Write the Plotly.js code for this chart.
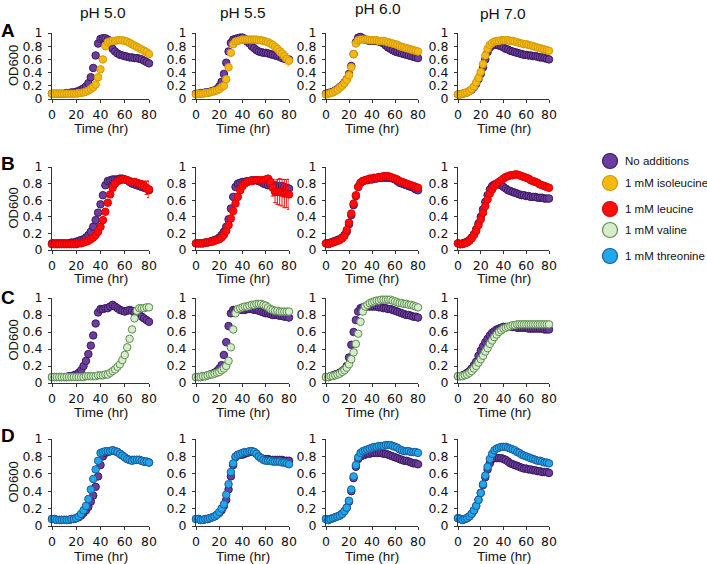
<!DOCTYPE html>
<html>
<head>
<meta charset="utf-8">
<script src="https://cdn.plot.ly/plotly-3.0.1.min.js"></script>
<style>
  html, body { margin: 0; padding: 0; background: #ffffff; }
  #chart { width: 707px; height: 564px; }
</style>
</head>
<body>
<div id="chart"></div>
<script>
// Sampling times (hours)
const time = [0,2,4,6,8,10,12,14,16,18,20,22,24,26,28,30,32,34,36,38,40,42,44,46,48,50,52,54,56,58,60,62,64,66,68,70,72,74,76,78,80];

const rowLabels = ['A', 'B', 'C', 'D'];
const phLabels = ['pH 5.0', 'pH 5.5', 'pH 6.0', 'pH 7.0'];
const legendLabels = ['No additions', '1 mM isoleucine', '1 mM leucine', '1 mM valine', '1 mM threonine'];
const xTitle = 'Time (hr)';
const yTitle = 'OD600';

// Row A: no additions vs 1 mM isoleucine (OD600)
const noAdd_A50 = [.08,.08,.08,.08,.08,.08,.09,.09,.1,.1,.11,.12,.14,.16,.19,.24,.33,.47,.66,.84,.91,.92,.92,.9,.84,.76,.72,.69,.67,.66,.65,.64,.63,.63,.62,.62,.61,.6,.58,.56,.54];
const ile_A50   = [.08,.08,.08,.08,.08,.08,.08,.08,.08,.08,.08,.09,.09,.1,.11,.13,.15,.18,.22,.33,.45,.6,.8,.86,.87,.88,.88,.89,.89,.89,.88,.87,.85,.83,.81,.79,.77,.75,.73,.71,.68];
const noAdd_A55 = [.08,.08,.09,.09,.1,.1,.11,.12,.13,.15,.19,.26,.38,.55,.72,.85,.9,.91,.92,.93,.93,.91,.87,.84,.8,.77,.74,.72,.71,.7,.7,.69,.68,.67,.66,.65,.64,.62,.61,.6,.6];
const ile_A55   = [.07,.08,.08,.08,.09,.09,.1,.11,.12,.13,.15,.18,.2,.3,.48,.7,.83,.87,.88,.89,.9,.9,.9,.9,.9,.9,.9,.89,.89,.88,.87,.86,.84,.82,.79,.76,.72,.69,.65,.61,.58];
const noAdd_A60 = [.08,.09,.1,.11,.13,.15,.18,.21,.25,.3,.38,.5,.68,.86,.93,.94,.92,.9,.89,.88,.88,.88,.88,.87,.86,.84,.81,.78,.76,.74,.72,.71,.7,.69,.68,.67,.66,.65,.64,.63,.62];
const ile_A60   = [.07,.08,.09,.1,.12,.14,.17,.2,.24,.29,.36,.48,.68,.84,.89,.9,.9,.9,.9,.89,.89,.89,.89,.88,.88,.88,.87,.86,.85,.84,.83,.82,.8,.79,.78,.77,.76,.75,.74,.73,.72];
const noAdd_A70 = [.07,.07,.08,.09,.1,.12,.14,.18,.23,.3,.38,.48,.6,.71,.78,.81,.82,.82,.81,.8,.78,.76,.75,.73,.72,.71,.7,.69,.68,.67,.67,.66,.66,.65,.65,.64,.63,.63,.62,.61,.6];
const ile_A70   = [.07,.07,.08,.09,.1,.12,.15,.19,.25,.32,.41,.53,.66,.76,.82,.85,.87,.88,.88,.89,.89,.89,.89,.88,.88,.87,.86,.85,.84,.83,.83,.82,.81,.8,.79,.78,.77,.76,.75,.74,.73];

// Row B: no additions vs 1 mM leucine
const noAdd_B50 = [.08,.08,.08,.08,.08,.08,.08,.08,.09,.09,.1,.11,.12,.13,.15,.18,.22,.28,.36,.45,.55,.66,.78,.83,.84,.85,.85,.85,.86,.86,.85,.84,.82,.8,.79,.78,.77,.76,.75,.74,.72];
const leu_B50   = [.07,.07,.07,.07,.07,.07,.07,.07,.07,.07,.07,.08,.08,.09,.1,.11,.13,.15,.18,.22,.28,.36,.46,.57,.67,.75,.8,.83,.84,.85,.85,.84,.83,.82,.82,.81,.8,.79,.77,.75,.73];
const noAdd_B55 = [.08,.08,.08,.08,.09,.09,.1,.11,.12,.13,.15,.18,.22,.28,.37,.5,.64,.76,.8,.81,.82,.82,.83,.83,.84,.84,.84,.83,.82,.8,.79,.78,.78,.78,.78,.77,.77,.77,.76,.75,.74];
const leu_B55   = [.08,.08,.08,.08,.09,.09,.1,.1,.11,.12,.13,.15,.18,.23,.3,.38,.47,.56,.64,.72,.77,.8,.82,.83,.83,.84,.84,.84,.84,.84,.85,.86,.82,.75,.7,.7,.7,.69,.68,.68,.67];
const noAdd_B60 = [.08,.08,.09,.1,.11,.12,.13,.15,.18,.22,.31,.42,.54,.65,.76,.81,.83,.84,.84,.85,.85,.86,.86,.87,.87,.87,.87,.87,.87,.86,.85,.83,.81,.8,.79,.78,.77,.76,.75,.73,.72];
const leu_B60   = [.08,.07,.08,.09,.1,.11,.12,.14,.17,.24,.33,.44,.56,.66,.76,.81,.83,.84,.85,.86,.86,.87,.87,.88,.88,.89,.89,.89,.88,.87,.86,.85,.83,.82,.81,.8,.79,.78,.77,.76,.75];
const noAdd_B70 = [.08,.07,.08,.09,.1,.12,.15,.19,.25,.32,.4,.49,.58,.66,.73,.77,.79,.8,.79,.78,.76,.74,.72,.71,.7,.69,.68,.67,.66,.66,.65,.65,.64,.64,.64,.63,.63,.63,.62,.62,.62];
const leu_B70   = [.08,.07,.07,.08,.09,.11,.14,.18,.23,.3,.37,.45,.53,.61,.68,.73,.77,.8,.82,.84,.86,.88,.89,.9,.9,.91,.91,.9,.89,.88,.87,.86,.84,.83,.82,.81,.79,.78,.77,.76,.75];

// Row C: no additions vs 1 mM valine
const noAdd_C50 = [.07,.07,.07,.07,.07,.07,.07,.08,.08,.09,.1,.12,.15,.2,.26,.34,.44,.56,.7,.83,.87,.87,.88,.88,.9,.92,.9,.88,.86,.85,.84,.85,.86,.85,.83,.81,.8,.78,.76,.74,.72];
const val_C50   = [.07,.07,.07,.07,.07,.07,.07,.07,.07,.07,.07,.07,.07,.07,.08,.08,.08,.08,.08,.09,.09,.09,.1,.1,.12,.14,.16,.19,.22,.27,.33,.42,.52,.63,.76,.85,.88,.88,.88,.89,.89];
const noAdd_C55 = [.07,.07,.07,.08,.08,.09,.1,.11,.12,.14,.17,.21,.33,.48,.67,.82,.86,.86,.86,.86,.86,.86,.87,.87,.87,.86,.86,.85,.84,.83,.82,.82,.81,.8,.8,.8,.79,.79,.78,.78,.77];
const val_C55   = [.07,.07,.07,.08,.08,.09,.1,.1,.11,.12,.13,.15,.17,.2,.26,.42,.63,.82,.87,.88,.89,.9,.9,.91,.92,.92,.93,.93,.93,.92,.91,.89,.87,.86,.85,.85,.84,.84,.84,.84,.84];
const noAdd_C60 = [.07,.07,.08,.09,.1,.11,.12,.14,.16,.2,.3,.45,.6,.74,.84,.88,.89,.9,.9,.9,.9,.9,.9,.89,.89,.88,.88,.87,.87,.86,.85,.84,.83,.82,.81,.8,.8,.79,.78,.78,.77];
const val_C60   = [.07,.07,.08,.08,.09,.1,.11,.13,.15,.18,.22,.28,.36,.46,.58,.72,.84,.9,.92,.94,.95,.96,.97,.97,.98,.98,.98,.98,.98,.97,.96,.95,.94,.94,.93,.93,.92,.92,.91,.9,.89];
const noAdd_C70 = [.08,.08,.09,.1,.12,.14,.17,.21,.25,.32,.38,.43,.48,.52,.56,.59,.61,.63,.64,.65,.66,.66,.66,.66,.66,.66,.65,.65,.65,.65,.65,.64,.64,.64,.64,.64,.64,.64,.63,.63,.63];
const val_C70   = [.08,.08,.08,.09,.1,.12,.14,.17,.2,.24,.28,.32,.37,.41,.46,.5,.54,.57,.6,.62,.64,.65,.66,.67,.68,.68,.69,.69,.69,.69,.69,.69,.69,.69,.69,.69,.69,.69,.69,.69,.69];

// Row D: no additions vs 1 mM threonine
const noAdd_D50 = [.08,.08,.07,.07,.07,.07,.07,.07,.08,.08,.09,.1,.12,.15,.18,.22,.28,.35,.45,.57,.7,.8,.84,.85,.86,.87,.86,.85,.83,.81,.79,.77,.76,.76,.76,.76,.76,.75,.74,.74,.73];
const thr_D50   = [.08,.08,.07,.07,.07,.07,.07,.07,.08,.08,.09,.11,.14,.18,.23,.31,.42,.54,.65,.75,.84,.85,.86,.86,.86,.87,.86,.85,.83,.81,.79,.77,.76,.75,.76,.76,.76,.75,.74,.74,.73];
const noAdd_D55 = [.08,.08,.07,.07,.08,.08,.09,.1,.11,.13,.15,.18,.23,.3,.42,.57,.7,.79,.81,.82,.82,.83,.84,.85,.86,.85,.83,.8,.78,.77,.77,.77,.76,.76,.76,.76,.76,.76,.75,.75,.75];
const thr_D55   = [.08,.08,.07,.07,.08,.08,.09,.1,.11,.13,.16,.2,.25,.36,.48,.62,.72,.8,.82,.83,.84,.85,.85,.86,.86,.85,.83,.8,.78,.76,.75,.75,.75,.74,.74,.74,.74,.73,.73,.72,.71];
const noAdd_D60 = [.08,.07,.08,.09,.1,.11,.12,.14,.17,.21,.28,.4,.55,.68,.77,.8,.81,.82,.83,.83,.84,.84,.84,.84,.84,.83,.83,.82,.81,.8,.79,.78,.77,.76,.75,.75,.74,.73,.72,.72,.71];
const thr_D60   = [.08,.07,.08,.09,.1,.11,.12,.14,.17,.21,.29,.42,.57,.7,.79,.84,.86,.87,.88,.89,.9,.91,.91,.92,.92,.92,.93,.93,.93,.92,.91,.9,.88,.87,.86,.86,.86,.85,.85,.85,.84];
const noAdd_D70 = [.09,.08,.07,.08,.09,.11,.14,.18,.23,.3,.38,.47,.56,.65,.72,.77,.78,.78,.78,.78,.77,.76,.74,.72,.71,.7,.69,.68,.67,.66,.66,.65,.65,.64,.64,.63,.63,.62,.62,.62,.61];
const thr_D70   = [.09,.08,.07,.08,.09,.11,.14,.18,.23,.3,.38,.48,.58,.68,.77,.83,.87,.89,.9,.91,.91,.91,.9,.89,.88,.87,.85,.84,.82,.81,.8,.79,.78,.77,.76,.75,.75,.74,.73,.73,.72];

// Standard deviations where they exceed the marker size
const err_ile_A55 = [0,0,0,0,0,0,0,0,0,0,0,0,0,0,0,0,0,0,0,0,0,0,0,0,0,0,0,0,0,0,0,0,.02,.03,.04,.05,.06,.07,.07,.08,.08];
const err_leu_B50 = [0,0,0,0,0,0,0,0,0,0,0,0,0,0,0,0,0,0,0,0,0,0,0,0,0,0,0,0,0,0,0,0,0,0,0,.02,.03,.04,.06,.08,.1];
const err_leu_B55 = [0,0,0,0,0,0,0,0,0,0,0,0,0,0,0,0,0,0,0,0,0,0,0,0,0,0,0,0,0,0,0,.02,.05,.1,.13,.15,.16,.16,.17,.17,.18];

// Marker styles per condition
const styles = {
  ctrl: { fill: '#6c3d9e', line: '#3a1b5e' },
  ile:  { fill: '#f5b914', line: '#d39b07' },
  leu:  { fill: '#ff0c0c', line: '#e00000' },
  val:  { fill: '#d7ebcd', line: '#5d8f4e' },
  thr:  { fill: '#21a8ea', line: '#1b5c9c' }
};
const legendKeys = ['ctrl', 'ile', 'leu', 'val', 'thr'];

// Panel grid: rows A-D, columns pH 5.0 / 5.5 / 6.0 / 7.0
const panels = [
  [noAdd_A50, ile_A50, 'ile', null], [noAdd_A55, ile_A55, 'ile', err_ile_A55], [noAdd_A60, ile_A60, 'ile', null], [noAdd_A70, ile_A70, 'ile', null],
  [noAdd_B50, leu_B50, 'leu', err_leu_B50], [noAdd_B55, leu_B55, 'leu', err_leu_B55], [noAdd_B60, leu_B60, 'leu', null], [noAdd_B70, leu_B70, 'leu', null],
  [noAdd_C50, val_C50, 'val', null], [noAdd_C55, val_C55, 'val', null], [noAdd_C60, val_C60, 'val', null], [noAdd_C70, val_C70, 'val', null],
  [noAdd_D50, thr_D50, 'thr', null], [noAdd_D55, thr_D55, 'thr', null], [noAdd_D60, thr_D60, 'thr', null], [noAdd_D70, thr_D70, 'thr', null]
];

// Figure geometry in pixels
const W = 707, H = 564;
const colPx = [[52, 149], [196, 289], [326, 418], [458, 549]];
const rowPx = [[33, 99], [167, 250], [298, 383], [439, 526]];
const xTitleDrop = [30, 29, 29, 30];
const FONT = 'Liberation Sans, Arial, Helvetica, sans-serif';
const TICKFONT = 'DejaVu Sans, Verdana, sans-serif';
const px = v => v / W;
const py = v => 1 - v / H;

const traces = [];
const layout = {
  width: W, height: H,
  margin: { l: 0, r: 0, t: 0, b: 0 },
  paper_bgcolor: '#ffffff',
  plot_bgcolor: 'rgba(0,0,0,0)',
  showlegend: false,
  font: { family: FONT, color: '#111111', size: 13 },
  annotations: [],
  shapes: []
};

panels.forEach((p, i) => {
  const r = Math.floor(i / 4), c = i % 4;
  const k = i + 1;
  const xs = k === 1 ? 'x' : 'x' + k;
  const ys = k === 1 ? 'y' : 'y' + k;
  const [ctrl, trt, kind, err] = p;

  layout[k === 1 ? 'xaxis' : 'xaxis' + k] = {
    domain: [px(colPx[c][0]), px(colPx[c][1])],
    anchor: ys,
    range: [0, 80],
    tickvals: [0, 20, 40, 60, 80],
    ticks: 'outside', ticklen: 3, tickcolor: '#333333', tickwidth: 1,
    ticklabelstandoff: 1,
    showline: true, linecolor: '#333333', linewidth: 1,
    showgrid: false, zeroline: false, fixedrange: true,
    tickfont: { family: TICKFONT, size: 12.5, color: '#111111' }
  };
  layout[k === 1 ? 'yaxis' : 'yaxis' + k] = {
    domain: [py(rowPx[r][1]), py(rowPx[r][0])],
    anchor: xs,
    range: [0, 1],
    tick0: 0, dtick: 0.2,
    ticks: 'outside', ticklen: 3, tickcolor: '#333333', tickwidth: 1,
    ticklabelstandoff: 3,
    showline: true, linecolor: '#333333', linewidth: 1,
    showgrid: false, zeroline: false, fixedrange: true,
    tickfont: { family: TICKFONT, size: 12.5, color: '#111111' }
  };

  // x-axis title under each panel
  layout.annotations.push({
    text: xTitle, xref: xs + ' domain', yref: ys + ' domain',
    x: 0.5, y: 0, yshift: -xTitleDrop[r],
    xanchor: 'center', yanchor: 'middle', showarrow: false,
    font: { size: 13.5, color: '#111111' }
  });
  // y-axis title on the first column only
  if (c === 0) {
    layout.annotations.push({
      text: yTitle, xref: 'paper', yref: ys + ' domain',
      x: px(13), y: 0.5, textangle: -90,
      xanchor: 'center', yanchor: 'middle', showarrow: false,
      font: { size: 13, color: '#111111' }
    });
  }

  const base = { type: 'scatter', mode: 'markers', x: time, xaxis: xs, yaxis: ys, cliponaxis: false, hoverinfo: 'skip' };
  traces.push(Object.assign({}, base, {
    y: ctrl,
    marker: { size: 7.5, color: styles.ctrl.fill, line: { color: styles.ctrl.line, width: 1 } }
  }));
  const t = Object.assign({}, base, {
    y: trt,
    marker: { size: 7.5, color: styles[kind].fill, line: { color: styles[kind].line, width: 1 } }
  });
  if (err) {
    t.error_y = { type: 'data', array: err, visible: true, color: styles[kind].fill, thickness: 1, width: 2 };
  }
  traces.push(t);
});

// Column headers
const headerPos = [[103, 12], [243, 12], [378, 8], [503, 14]];
phLabels.forEach((txt, i) => {
  layout.annotations.push({
    text: txt, xref: 'paper', yref: 'paper',
    x: px(headerPos[i][0]), y: py(headerPos[i][1]),
    xanchor: 'center', yanchor: 'middle', showarrow: false,
    font: { size: 15.5, color: '#111111' }
  });
});

// Row letters
const letterY = [30, 163, 297, 435];
rowLabels.forEach((txt, i) => {
  layout.annotations.push({
    text: '<b>' + txt + '</b>', xref: 'paper', yref: 'paper',
    x: px(8), y: py(letterY[i]),
    xanchor: 'center', yanchor: 'middle', showarrow: false,
    font: { size: 19, color: '#000000' }
  });
});

// Legend: circle keys with labels
const legendY = [161, 183, 209, 230, 256];
const legendR = 7.5, legendCx = 610, legendTextX = 623;
legendKeys.forEach((key, i) => {
  const cy = legendY[i];
  layout.shapes.push({
    type: 'circle', xref: 'paper', yref: 'paper',
    x0: px(legendCx - legendR), x1: px(legendCx + legendR),
    y0: py(cy + legendR), y1: py(cy - legendR),
    fillcolor: styles[key].fill,
    line: { color: styles[key].line, width: 1.2 }
  });
  layout.annotations.push({
    text: legendLabels[i], xref: 'paper', yref: 'paper',
    x: px(legendTextX), y: py(cy),
    xanchor: 'left', yanchor: 'middle', showarrow: false,
    font: { size: 11.5, color: '#111111' }
  });
});

Plotly.newPlot('chart', traces, layout, { staticPlot: true, displayModeBar: false });
</script>
</body>
</html>
